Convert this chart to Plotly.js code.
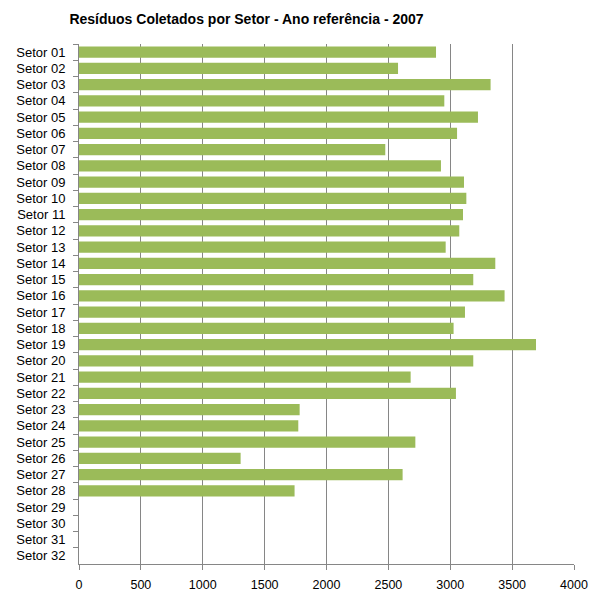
<!DOCTYPE html>
<html>
<head>
<meta charset="utf-8">
<script src="https://cdn.plot.ly/plotly-3.0.1.min.js"></script>
<style>html,body{margin:0;padding:0;background:#fff;}#chart{width:592px;height:595px;}</style>
</head>
<body>
<div id="chart"></div>
<script>
const sectors = ["Setor 01","Setor 02","Setor 03","Setor 04","Setor 05","Setor 06","Setor 07","Setor 08",
  "Setor 09","Setor 10","Setor 11","Setor 12","Setor 13","Setor 14","Setor 15","Setor 16",
  "Setor 17","Setor 18","Setor 19","Setor 20","Setor 21","Setor 22","Setor 23","Setor 24",
  "Setor 25","Setor 26","Setor 27","Setor 28","Setor 29","Setor 30","Setor 31","Setor 32"];
const residuos = [2885,2578,3326,2952,3224,3055,2475,2925,
  3111,3130,3103,3073,2963,3364,3186,3439,
  3119,3027,3693,3186,2680,3046,1783,1772,
  2718,1306,2615,1742,null,null,null,null];
const xTicks = [0,500,1000,1500,2000,2500,3000,3500,4000];

const font = "Liberation Sans, Arial, sans-serif";
Plotly.newPlot('chart', [{
  type: 'bar',
  orientation: 'h',
  y: sectors,
  x: residuos,
  marker: {color: '#9BBB59', line: {width: 0}},
  hoverinfo: 'x+y'
}], {
  width: 592, height: 595,
  margin: {l: 79, r: 18, t: 44, b: 31},
  paper_bgcolor: '#ffffff', plot_bgcolor: '#ffffff',
  bargap: 0.32,
  showlegend: false,
  title: {text: '<b>Resíduos Coletados por Setor - Ano referência - 2007</b>',
    font: {family: font, size: 14, color: '#000'}, x: 0.4164, xanchor: 'center', y: 0.968, yanchor: 'middle'},
  xaxis: {
    range: [0, 4000], tickvals: xTicks, ticktext: xTicks.map(String),
    showgrid: true, gridcolor: '#868686', gridwidth: 1,
    showline: true, linecolor: '#868686', linewidth: 1,
    ticks: 'outside', ticklen: 5, tickcolor: '#868686',
    ticklabelstandoff: 4,
    tickfont: {family: font, size: 12.5, color: '#000'},
    zeroline: false, fixedrange: true
  },
  yaxis: {
    type: 'category', categoryorder: 'array', categoryarray: sectors,
    autorange: 'reversed', tickson: 'boundaries',
    showgrid: false, showline: true, linecolor: '#868686', linewidth: 1,
    ticks: 'outside', ticklen: 5, tickcolor: '#868686',
    ticklabelstandoff: 10,
    tickfont: {family: font, size: 13, color: '#000'},
    zeroline: false, fixedrange: true
  }
}, {displayModeBar: false, staticPlot: true});
</script>
</body>
</html>
